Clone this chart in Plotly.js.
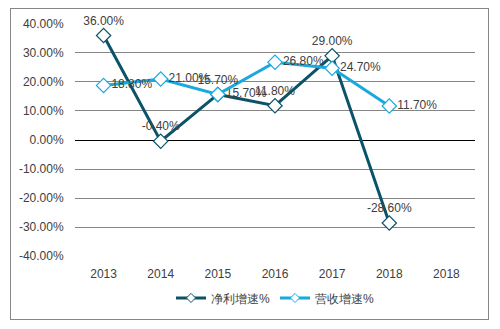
<!DOCTYPE html>
<html><head><meta charset="utf-8">
<script src="https://cdn.plot.ly/plotly-3.0.1.min.js"></script>
<style>
body{margin:0;padding:0;background:#fff;}
#frame{position:absolute;left:10px;top:8px;width:479px;height:312px;border:1px solid #868686;box-sizing:border-box;}
#chart{position:absolute;left:0;top:0;width:500px;height:329px;}
</style></head>
<body>
<div id="frame"></div>
<div id="chart"></div>
<script>
const categories = ["2013","2014","2015","2016","2017","2018","2018"];
const netProfitGrowth = [36.00, -0.40, 15.70, 11.80, 29.00, -28.60];
const revenueGrowth = [18.80, 21.00, 15.70, 26.80, 24.70, 11.70];
const netProfitLabelPos = ["top center","top center","middle right","top center","top center","top center"];
const revenueLabelPos = ["middle right","middle right","top center","middle right","middle right","middle right"];
const seriesNames = ["净利增速%","营收增速%"];
const seriesColors = ["#0b5369","#19a9df"];
const tickVals = [-40,-30,-20,-10,0,10,20,30,40];

const idx = categories.map((c,i)=>i);
const fmt = v => v.toFixed(2) + "%";
const font = {family:"Liberation Sans, Arial, sans-serif", size:12, color:"#404040"};

function series(name, values, color, pos){
  return {
    type:"scatter", mode:"lines+markers+text", name:name, showlegend:false,
    x: idx.slice(0, values.length), y: values,
    text: values.map(fmt), textposition: pos,
    textfont: font,
    line:{color:color, width:3},
    marker:{symbol:"diamond", size:11, color:"#ffffff", line:{color:color, width:1.2}},
    cliponaxis:false, hoverinfo:"skip"
  };
}
function legendItem(name, color){
  return {
    type:"scatter", mode:"lines+markers", name:name, x:[null], y:[null],
    line:{color:color, width:3},
    marker:{symbol:"diamond", size:7, color:"#ffffff", line:{color:color, width:1}},
    hoverinfo:"skip"
  };
}

const data = [
  series(seriesNames[0], netProfitGrowth, seriesColors[0], netProfitLabelPos),
  series(seriesNames[1], revenueGrowth, seriesColors[1], revenueLabelPos),
  legendItem(seriesNames[0], seriesColors[0]),
  legendItem(seriesNames[1], seriesColors[1])
];

const layout = {
  width:500, height:329,
  margin:{l:75, r:25, t:23, b:72},
  paper_bgcolor:"rgba(0,0,0,0)", plot_bgcolor:"rgba(0,0,0,0)",
  font: font,
  showlegend:true,
  legend:{orientation:"h", x:0.5, xanchor:"center", y:-0.175, yanchor:"middle", font:font, itemwidth:30},
  xaxis:{
    range:[-0.5, categories.length-0.5], tickvals: idx, ticktext: categories,
    showgrid:false, zeroline:false, showline:false, ticks:"outside", ticklen:6, tickcolor:"rgba(0,0,0,0)",
    tickfont: font, fixedrange:true
  },
  yaxis:{
    range:[-40.3, 40.3], tickvals: tickVals, ticktext: tickVals.map(fmt),
    showgrid:true, gridcolor:"#868686", gridwidth:1,
    zeroline:true, zerolinecolor:"#000000", zerolinewidth:1,
    showline:false, ticks:"outside", ticklen:8, tickcolor:"rgba(0,0,0,0)",
    tickfont: font, fixedrange:true
  }
};

Plotly.newPlot("chart", data, layout, {staticPlot:true, displayModeBar:false});
</script>
</body></html>
